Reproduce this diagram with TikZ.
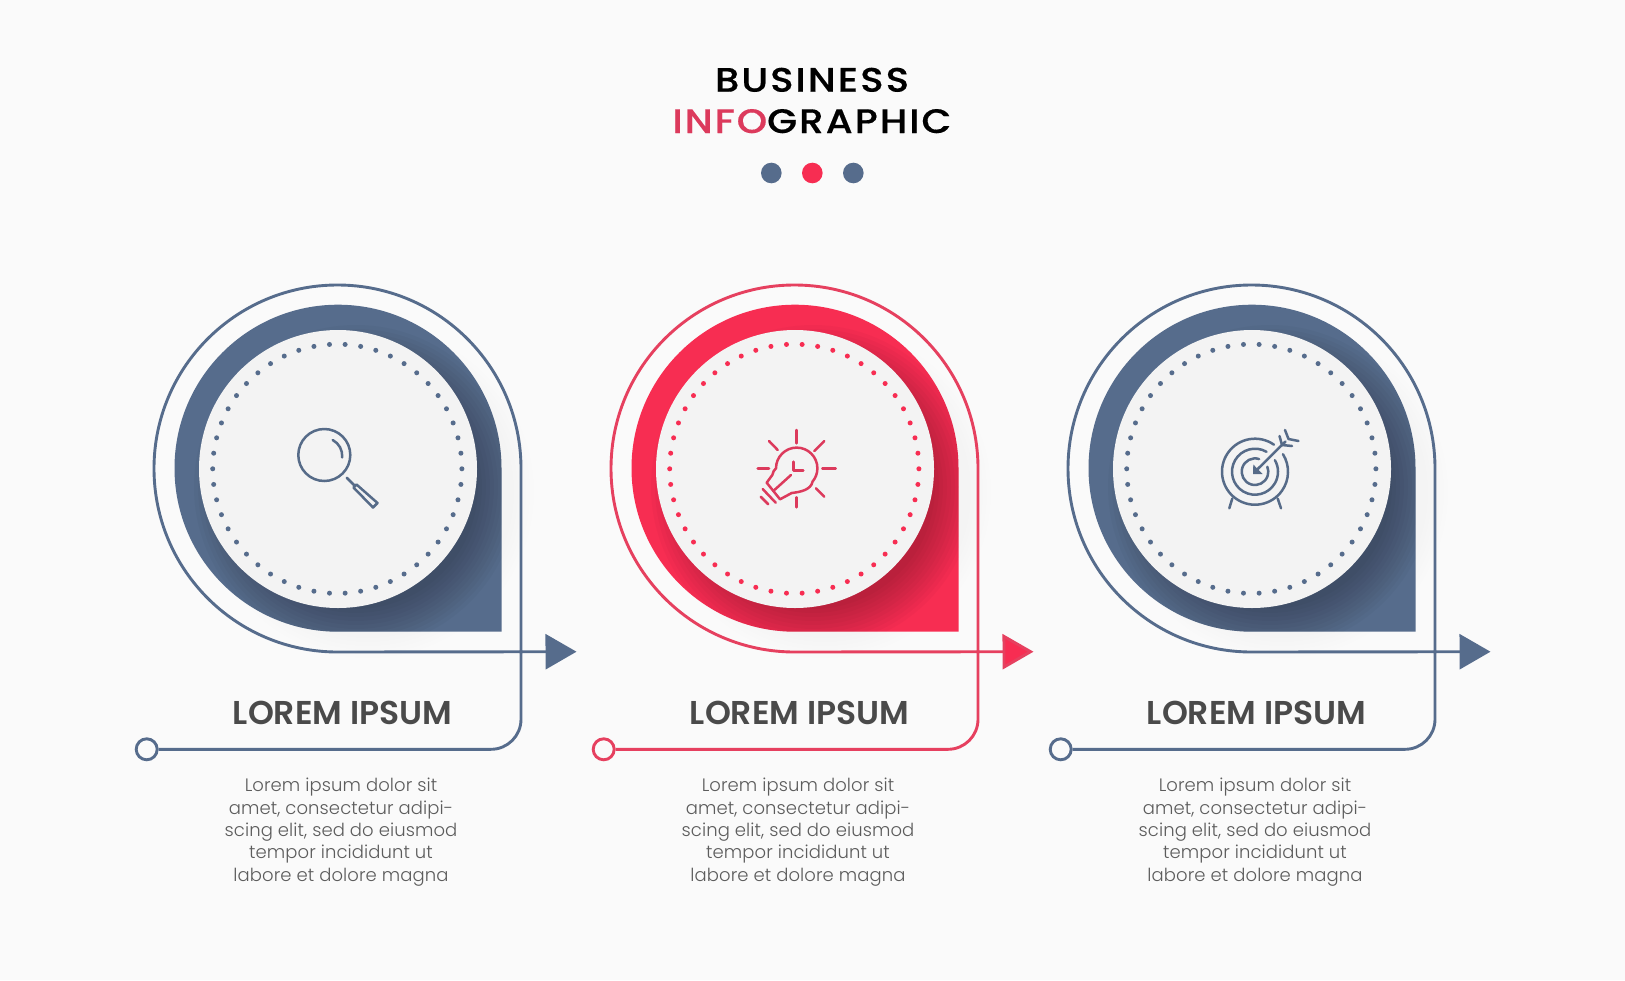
\documentclass[tikz,border=0pt]{standalone}
\usepackage{fontspec}
\usetikzlibrary{arrows.meta}
\setmainfont{Poppins}
\newfontfamily\titlefont{Poppins Medium}[FakeStretch=1.14,LetterSpace=6,FakeBold=0.4]
\newfontfamily\headfont{Poppins SemiBold}[FakeStretch=1.0]
\newfontfamily\bodyfont{Poppins Light}[LetterSpace=0.5]
\definecolor{pagebg}{HTML}{FAFAFA}
\definecolor{disc}{HTML}{F3F3F3}
\definecolor{slate}{HTML}{566C8C}
\definecolor{rose}{HTML}{F72D52}
\definecolor{roseline}{HTML}{E6405F}
\definecolor{rosetext}{HTML}{DC3A5C}
\definecolor{slateicon}{HTML}{566B88}
\definecolor{headtext}{HTML}{4A4A4A}
\definecolor{bodytext}{HTML}{5C5C5C}
\tikzset{
  x=1pt,y=-1pt,
  flow/.style={line width=2.9pt},
  iconline/.style={line width=2.5pt,line cap=round,line join=round},
  headlabel/.style={anchor=base,inner sep=0pt,text=headtext,font=\headfont\fontsize{33}{33}\selectfont},
  bodylabel/.style={anchor=north,inner sep=0pt,align=center,text=bodytext,font=\bodyfont\fontsize{18}{22.4}\selectfont},
  titlelabel/.style={anchor=base,inner sep=0pt,font=\titlefont\fontsize{34}{34}\selectfont},
  startring/.style={circle,draw=#1,line width=2.9pt,fill=pagebg,minimum size=21pt,inner sep=0pt},
  titledot/.style={circle,fill=#1,minimum size=20.6pt,inner sep=0pt},
}
\newcommand{\tearpath}{(501.7,631.7) -- (338,631.7) arc[start angle=90,end angle=360,radius=163.5] -- cycle}
\newcommand{\panelfig}[4]{%
\begin{scope}[shift={(#2,0)}]
  % faint spill of the shadow outside the teardrop
  \foreach \r in {146,150,...,166}
    \fill[black,opacity=0.004] (368,492) circle (\r);
  \fill[#3] \tearpath;
  % soft shadow of the disc, on the teardrop
  \begin{scope}
    \clip \tearpath;
    \foreach \r in {122,126,...,162}
      \fill[black,opacity=0.024] (356,487) circle (\r);
  \end{scope}
  \fill[disc] (338,469) circle (139);
  \foreach \k in {0,...,49}
    \fill[#3] ({337.3+124.6*cos(7.2*\k)},{468.8+124.6*sin(7.2*\k)}) circle (2.5);
  \node[startring=#4] (s#1) at (146.7,749.3) {};
  \coordinate (t#1) at (576.5,651.7);
  \draw[flow,draw=#4,-{Triangle[length=31pt,width=35pt,fill=#3]}] (s#1.east) -- (491,749.3)
    arc[start angle=90,end angle=0,radius=30] -- (521,468.5)
    arc[start angle=0,end angle=-270,radius=183.5] -- (t#1);
  \node[headlabel] (h#1) at (342.5,724) {LOREM IPSUM};
  \node[bodylabel] (b#1) at (341,778) {Lorem ipsum dolor sit\\amet, consectetur adipi-\\scing elit, sed do eiusmod\\tempor incididunt ut\\labore et dolore magna};
\end{scope}}
\begin{document}
\begin{tikzpicture}
\useasboundingbox (0,0) rectangle (1625,980);
\fill[pagebg] (0,0) rectangle (1625,980);
% title
\node[titlelabel,text=black] (title1) at (812,91.7) {BUSINESS};
\node[titlelabel] (title2) at (812,133) {\textcolor{rosetext}{INFO}GRAPHIC};
\node[titledot=slate] (d1) at (771.3,173) {};
\node[titledot=rose] (d2) at (812.3,173) {};
\node[titledot=slate] (d3) at (853.3,173) {};
% panels
\panelfig{1}{0}{slate}{slate}
\panelfig{2}{457}{rose}{roseline}
\panelfig{3}{914}{slate}{slate}
% magnifier
\begin{scope}[iconline,draw=slateicon]
  \draw[slateicon] (324.3,455) circle (26);
  \draw[slateicon] (332.7,440) arc[start angle=-62,end angle=5,radius=18];
  \draw[slateicon] (346.7,477.7) -- (355,486);
  \draw[slateicon] (353.5,487.5) -- (356.5,484.5) -- (377.5,503) -- (373,507.5) -- cycle;
\end{scope}
% bulb
\begin{scope}[iconline,rosetext]
  \draw (766.7,482.7) -- (772.3,475) .. controls (773,472) and (774,470) .. (776,468.3)
    arc[start angle=180,end angle=400,radius=20.7]
    .. controls (811,490) and (800,492) .. (791.7,493) -- (780,499.3) -- cycle;
  \draw (773.3,491) -- (791,475);
  \draw (793.3,461.7) -- (793.3,470.7) -- (803.3,470.7);
  \draw (762.7,489) -- (775.7,502.7);
  \draw (760.7,496.7) -- (768.3,504.3);
  \draw (796.7,430) -- (796.7,443.3);
  \draw (824.3,441) -- (814.3,451);
  \draw (822.3,468.3) -- (835.7,468.3);
  \draw (816,488.3) -- (824.3,496.7);
  \draw (796.7,497.3) -- (796.7,507.3);
  \draw (757.7,468.3) -- (769,468.3);
  \draw (769,441) -- (777.7,450);
\end{scope}
% target
\begin{scope}[iconline,slateicon]
  \coordinate (tc) at (1255,471.7);
  \draw ({1255+33*cos(-55)},{471.7+33*sin(-55)}) arc[start angle=-55,end angle=-392,radius=33];
  \draw ({1255+23*cos(-60)},{471.7+23*sin(-60)}) arc[start angle=-60,end angle=-390,radius=23];
  \draw ({1255+13.3*cos(-72)},{471.7+13.3*sin(-72)}) arc[start angle=-72,end angle=-382,radius=13.3];
  \draw (tc) -- (1285.5,441.5);
  \fill (1253,474) -- (1253.3,464.5) -- (1262.5,474) -- cycle;
  \draw (1285,430) -- (1288.5,439) -- (1298.5,441);
  \draw (1279.5,436) -- (1282,445) -- (1292,446);
  \draw (1232.3,498.5) -- (1229.3,508.3);
  \draw (1277.7,498.5) -- (1281,508.3);
\end{scope}
\end{tikzpicture}
\end{document}
